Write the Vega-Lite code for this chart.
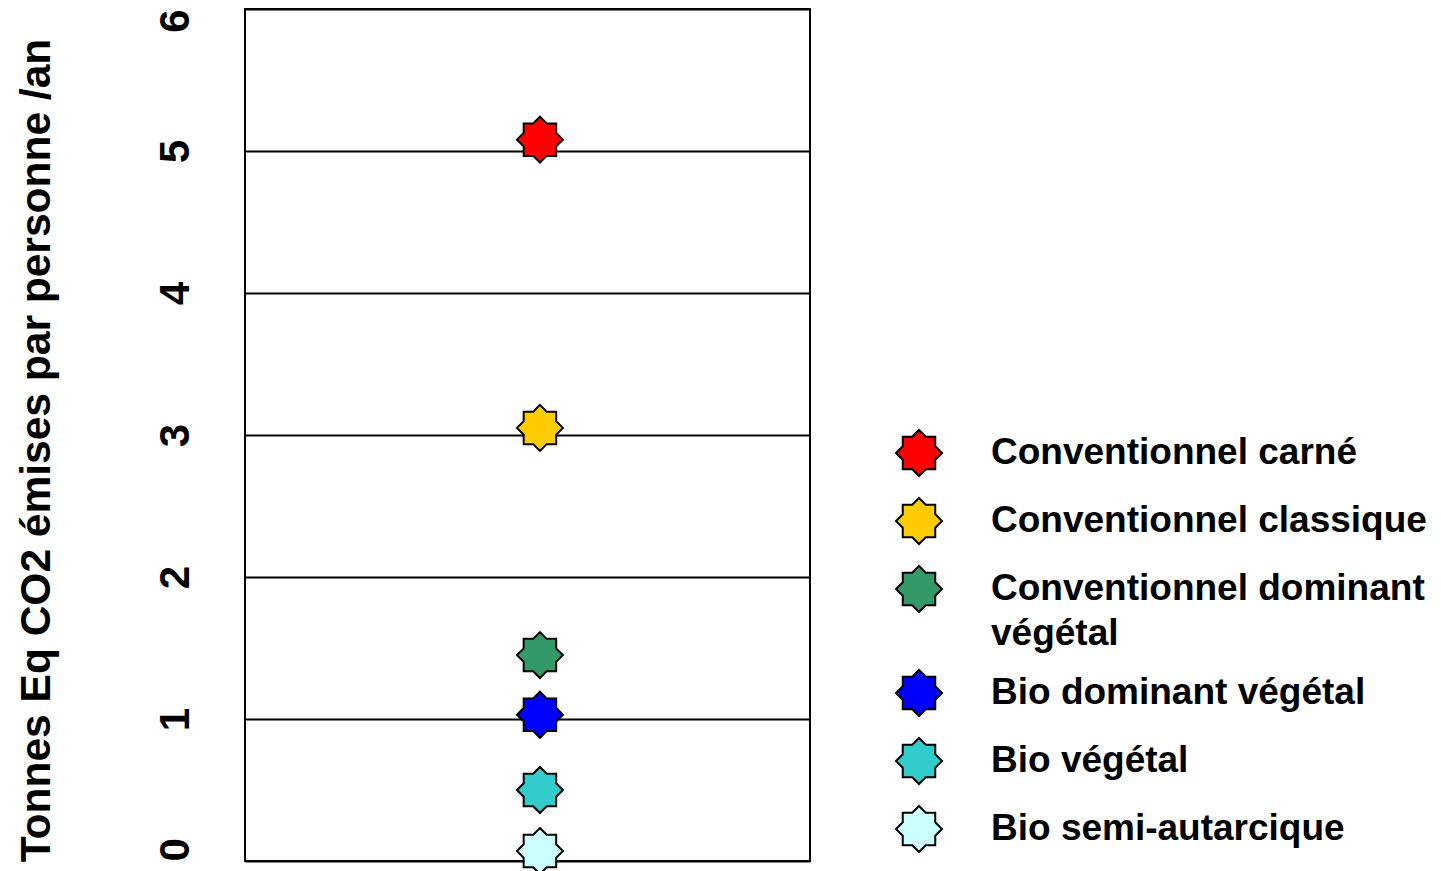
{
  "$schema": "https://vega.github.io/schema/vega-lite/v6.json",
  "width": 565,
  "height": 852,
  "autosize": {"type": "none"},
  "padding": {"left": 245, "top": 9, "right": 631, "bottom": 10},
  "background": "white",
  "config": {
    "font": "Liberation Sans",
    "view": {"stroke": "black", "strokeWidth": 2},
    "style": {"guide-label": {"lineHeight": 45}}
  },
  "data": {
    "values": [
      {"regime": "Conventionnel carné", "t": 5.08},
      {"regime": "Conventionnel classique", "t": 3.05},
      {"regime": "Conventionnel dominant végétal", "t": 1.45},
      {"regime": "Bio dominant végétal", "t": 1.03},
      {"regime": "Bio végétal", "t": 0.5},
      {"regime": "Bio semi-autarcique", "t": 0.07}
    ]
  },
  "mark": {
    "type": "point",
    "filled": true,
    "opacity": 1,
    "size": 2116,
    "stroke": "black",
    "strokeWidth": 2,
    "shape": "M0,-1L0.2928,-0.7068L0.7071,-0.7071L0.7068,-0.2928L1,0L0.7068,0.2928L0.7071,0.7071L0.2928,0.7068L0,1L-0.2928,0.7068L-0.7071,0.7071L-0.7068,0.2928L-1,0L-0.7068,-0.2928L-0.7071,-0.7071L-0.2928,-0.7068Z"
  },
  "encoding": {
    "x": {"datum": 0.522, "type": "quantitative", "scale": {"domain": [0, 1]}, "axis": null},
    "y": {
      "field": "t",
      "type": "quantitative",
      "scale": {"domain": [0, 6], "nice": false},
      "axis": {
        "values": [0, 1, 2, 3, 4, 5, 6],
        "grid": true,
        "gridColor": "black",
        "gridWidth": 2,
        "gridOpacity": 1,
        "ticks": false,
        "domain": false,
        "labelAngle": -90,
        "labelAlign": {"condition": [{"test": "datum.value == 0", "value": "left"}, {"test": "datum.value == 6", "value": "right"}], "value": "center"},
        "labelBaseline": "alphabetic",
        "labelPadding": 57,
        "labelFontSize": 42,
        "labelFontWeight": "bold",
        "labelColor": "black",
        "title": "Tonnes Eq CO2 émises par personne /an",
        "titleFontSize": 42.5,
        "titleFontWeight": "bold",
        "titleColor": "black",
        "titleAngle": -90,
        "titleAlign": "center",
        "titleBaseline": "alphabetic",
        "titleX": -196,
        "titleY": 441
      }
    },
    "color": {
      "field": "regime",
      "type": "nominal",
      "scale": {
        "domain": ["Conventionnel carné", "Conventionnel classique", "Conventionnel dominant végétal", "Bio dominant végétal", "Bio végétal", "Bio semi-autarcique"],
        "range": ["#FF0000", "#FFCC00", "#339966", "#0000FF", "#33CCCC", "#CCFFFF"]
      },
      "legend": {
        "orient": "none",
        "legendX": 650,
        "legendY": 420,
        "title": null,
        "padding": 0,
        "symbolType": "M0,-1L0.2928,-0.7068L0.7071,-0.7071L0.7068,-0.2928L1,0L0.7068,0.2928L0.7071,0.7071L0.2928,0.7068L0,1L-0.2928,0.7068L-0.7071,0.7071L-0.7068,0.2928L-1,0L-0.7068,-0.2928L-0.7071,-0.7071L-0.2928,-0.7068Z",
        "symbolSize": 2116,
        "symbolStrokeColor": "black",
        "symbolStrokeWidth": 2,
        "symbolOpacity": 1,
        "labelFontSize": 37,
        "labelFontWeight": "bold",
        "labelColor": "black",
        "labelOffset": 48,
        "labelLimit": 700,
        "rowPadding": 14,
        "labelExpr": "datum.label == 'Conventionnel dominant végétal' ? ['Conventionnel dominant', 'végétal'] : datum.label"
      }
    }
  }
}
